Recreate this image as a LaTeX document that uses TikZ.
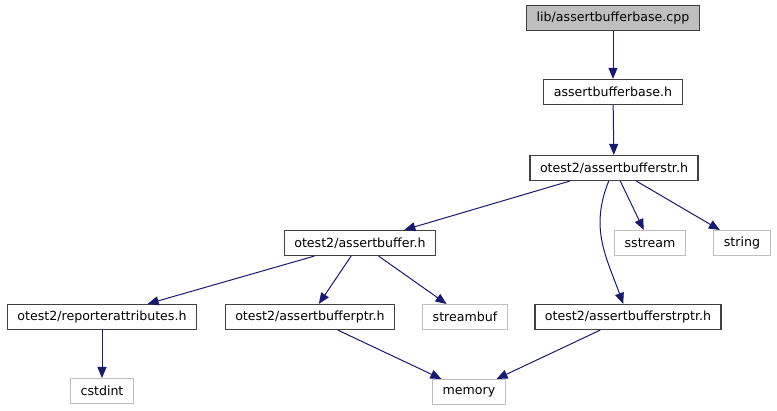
\documentclass[tikz,border=0pt]{standalone}
\usepackage{fontspec}
\setmainfont{DejaVu Sans}
\usetikzlibrary{arrows.meta}

\definecolor{edgeblue}{HTML}{191970}
\definecolor{boxgray}{HTML}{BFBFBF}
\definecolor{boxborder}{HTML}{404040}

\begin{document}
\begin{tikzpicture}[
    x=1pt, y=1pt,
    >={Triangle[length=11pt, width=9pt]}, % Filled arrow heads
    file/.style={draw=boxborder, line width=1.2pt, inner xsep=10pt, inner ysep=0pt, minimum height=25pt, font=\fontsize{12.6}{14}\selectfont}, % Header in the project
    sysfile/.style={file, draw=boxgray, line width=1pt}, % System header
    srcfile/.style={file, fill=boxgray}, % File the graph is about
    dep/.style={->, edgeblue, line width=1pt} % Include edge
]

    % Picture size
    \useasboundingbox (0,0) rectangle (777,411);

    % Files
    \node[srcfile] (cpp) at (613,393) {lib/assertbufferbase.cpp};
    \node[file] (base) at (613,319) {assertbufferbase.h};
    \node[file] (str) at (614,243) {otest2/assertbufferstr.h};
    \node[file] (buffer) at (360,168) {otest2/assertbuffer.h};
    \node[sysfile] (sstream) at (650,168) {sstream};
    \node[sysfile] (string) at (742,168) {string};
    \node[file] (reporter) at (102,94) {otest2/reporterattributes.h};
    \node[file] (ptr) at (310,94) {otest2/assertbufferptr.h};
    \node[sysfile] (streambuf) at (465,94) {streambuf};
    \node[file] (strptr) at (628,94) {otest2/assertbufferstrptr.h};
    \node[sysfile] (cstdint) at (102,20) {cstdint};
    \node[sysfile] (memory) at (469,19) {memory};

    % Includes
    \draw[dep] (cpp) -- (base);
    \draw[dep] (base) -- (str);
    \draw[dep] (str) -- (buffer);
    \draw[dep] (str) to[out=-112, in=110, looseness=1.05] (strptr);
    \draw[dep] (str) -- (sstream);
    \draw[dep] (str) -- (string);
    \draw[dep] (buffer) -- (reporter);
    \draw[dep] (buffer) -- (ptr);
    \draw[dep] (buffer) -- (streambuf);
    \draw[dep] (reporter) -- (cstdint);
    \draw[dep] (ptr) -- (memory);
    \draw[dep] (strptr) -- (memory);

\end{tikzpicture}
\end{document}
